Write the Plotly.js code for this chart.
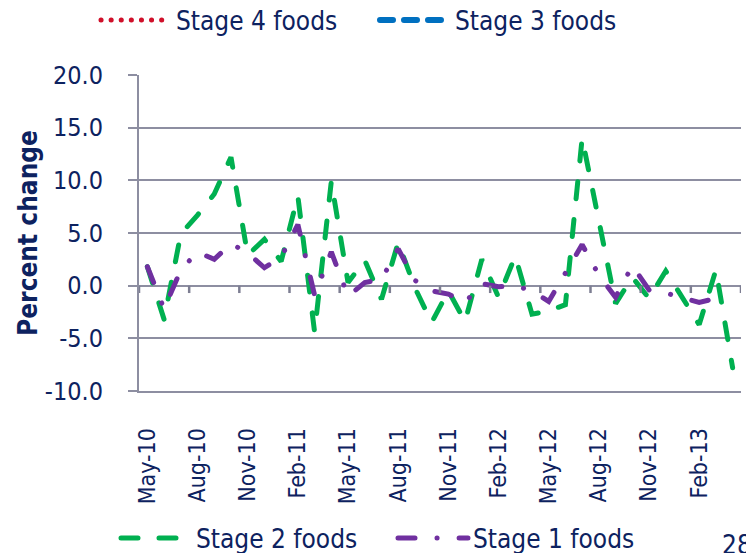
<!DOCTYPE html>
<html>
<head>
<meta charset="utf-8">
<script src="https://cdn.plot.ly/plotly-3.0.1.min.js"></script>
<style>
  html, body { margin: 0; padding: 0; background: #ffffff; }
  #chart { width: 746px; height: 553px; }
  #chart path.js-line, #chart .legendlines path { stroke-linecap: round; }
</style>
</head>
<body>
<div id="chart"></div>
<script>
// ---- data ----
var categories = ["May-10","Jun-10","Jul-10","Aug-10","Sep-10","Oct-10","Nov-10","Dec-10",
  "Jan-11","Feb-11","Mar-11","Apr-11","May-11","Jun-11","Jul-11","Aug-11","Sep-11","Oct-11",
  "Nov-11","Dec-11","Jan-12","Feb-12","Mar-12","Apr-12","May-12","Jun-12","Jul-12","Aug-12",
  "Sep-12","Oct-12","Nov-12","Dec-12","Jan-13","Feb-13","Mar-13","Apr-13"];

var stage2 = [1.8,-3.2,4.9,6.7,8.7,12.2,2.9,4.4,2.3,8.5,-4.4,9.9,0.3,2.4,-1.3,4.1,-0.2,-3.5,
  -0.5,-3.4,2.5,-1.1,2.8,-2.7,-2.4,-1.8,14.0,6.0,-1.7,0.8,-1.2,1.4,-1.1,-3.7,1.5,-7.8];

var stage1 = [1.8,-2.2,1.5,3.2,2.5,4.0,3.1,1.7,2.7,5.8,-0.9,3.2,-1.0,0.3,0.6,3.5,0.5,-0.5,
  -0.8,-1.6,0.2,-0.1,0.0,-0.5,-1.5,1.2,3.9,1.0,-1.1,1.9,-0.4,-0.7,-1.2,-1.6,-1.2,null];

// Stage 3 and Stage 4 are listed in the legend but have no visible values
var stage3 = categories.map(function () { return null; });
var stage4 = categories.map(function () { return null; });

var xTickLabels = ["May-10","Aug-10","Nov-10","Feb-11","May-11","Aug-11","Nov-11","Feb-12",
  "May-12","Aug-12","Nov-12","Feb-13"];
var yTickValues = [-10, -5, 0, 5, 10, 15, 20];
var yTickLabels = ["-10.0","-5.0","0.0","5.0","10.0","15.0","20.0"];

// ---- styling ----
var FONT = '"DejaVu Sans Condensed", "DejaVu Sans", Tahoma, sans-serif';
var TXT = '#0d2260';
var GRID = '#8d8ea1';

// tick marks hanging from the zero line, at category boundaries every 3 months
var boundaryTicks = [];
for (var b = -0.5; b <= categories.length - 0.5; b += 3) boundaryTicks.push(b);
var tickShapes = boundaryTicks.map(function (v) {
  return { type: 'line', xref: 'x', yref: 'y', x0: v, x1: v, y0: 0, y1: -0.7,
    line: { color: '#7d7e92', width: 2.5 }, layer: 'above' };
});

var traces = [
  { name: 'Stage 4 foods', x: categories, y: stage4, type: 'scatter', mode: 'lines',
    line: { color: '#d0102a', width: 5, dash: '0.1px,10px' }, legend: 'legend' },
  { name: 'Stage 3 foods', x: categories, y: stage3, type: 'scatter', mode: 'lines',
    line: { color: '#0070c0', width: 6, dash: '13px,11px' }, legend: 'legend2' },
  { name: 'Stage 2 foods', x: categories, y: stage2, type: 'scatter', mode: 'lines',
    line: { color: '#00b050', width: 5, dash: '17px,21px' }, legend: 'legend3' },
  { name: 'Stage 1 foods', x: categories, y: stage1, type: 'scatter', mode: 'lines',
    line: { color: '#7030a0', width: 5, dash: '17px,22px,0.1px,22px' }, legend: 'legend4' }
];

function leg(xpx, ypx) {
  return { xref: 'container', yref: 'container', x: xpx / 746, y: 1 - ypx / 553,
    xanchor: 'left', yanchor: 'middle', orientation: 'h', itemwidth: 70,
    bgcolor: 'rgba(0,0,0,0)', font: { family: FONT, size: 26, color: TXT } };
}

var layout = {
  width: 746, height: 553,
  paper_bgcolor: '#ffffff', plot_bgcolor: '#ffffff',
  margin: { l: 139, r: 5, t: 75, b: 162 },
  font: { family: FONT, color: TXT, size: 24 },
  showlegend: true,
  legend: leg(96, 20),
  legend2: leg(375, 20),
  legend3: leg(116, 538),
  legend4: leg(393, 538),
  shapes: tickShapes,
  xaxis: {
    type: 'category', categoryorder: 'array', categoryarray: categories,
    range: [-0.5, categories.length - 0.5],
    tickmode: 'array', tickvals: xTickLabels, ticktext: xTickLabels,
    tickangle: -90, ticks: '', ticklabelstandoff: 26,
    showgrid: false, zeroline: false,
    showline: true, linecolor: GRID, linewidth: 2,
    tickfont: { family: FONT, size: 23, color: TXT }
  },
  yaxis: {
    range: [-10, 20],
    tickmode: 'array', tickvals: yTickValues, ticktext: yTickLabels,
    ticks: 'outside', ticklen: 9, tickwidth: 2, tickcolor: GRID, ticklabelstandoff: 20,
    showgrid: true, gridcolor: GRID, gridwidth: 2,
    zeroline: true, zerolinecolor: GRID, zerolinewidth: 2,
    showline: true, linecolor: GRID, linewidth: 2,
    tickfont: { family: FONT, size: 25, color: TXT },
    title: { text: '<b>Percent change</b>', font: { family: FONT, size: 26, color: TXT }, standoff: 0 }
  },
  annotations: [
    { xref: 'paper', yref: 'paper', x: (720 - 139) / 602, y: (391 - 528) / 316,
      xanchor: 'left', yanchor: 'top', showarrow: false, text: '28',
      font: { family: FONT, size: 26, color: TXT } }
  ]
};

Plotly.newPlot('chart', traces, layout, { displayModeBar: false, staticPlot: true });
</script>
</body>
</html>
